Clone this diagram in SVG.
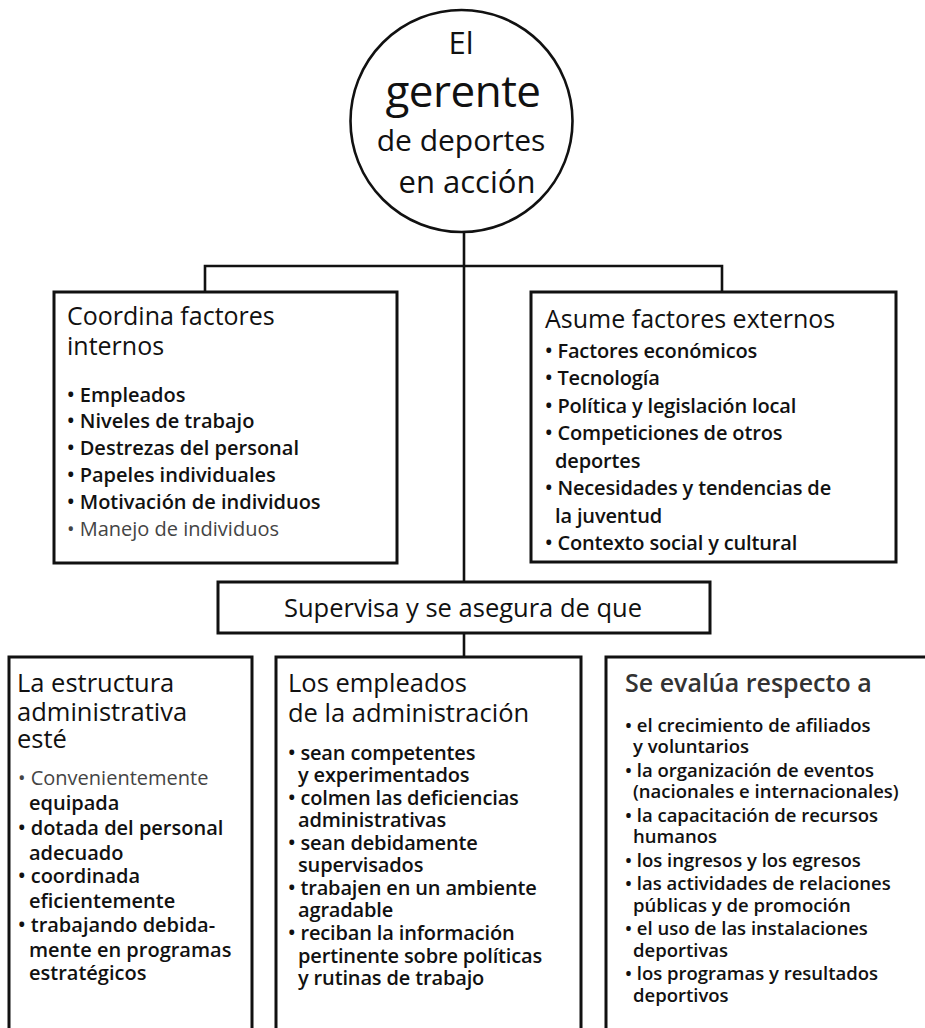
<svg xmlns="http://www.w3.org/2000/svg" width="925" height="1028" viewBox="0 0 925 1028">
<style>
text{font-family:"Open Sans","Noto Sans","Liberation Sans",sans-serif;fill:#111}
.box{fill:#fff;stroke:#111;stroke-width:3}
.open{fill:none;stroke:#111;stroke-width:3}
.conn{fill:none;stroke:#111;stroke-width:2.6}
.hd{font-size:25px;font-weight:500}
.hd2{font-size:25.5px;font-weight:500}
.it{font-size:20px;font-weight:600}
.it2{font-size:18.5px;font-weight:600}
.gray{fill:#444;font-weight:500}
.c{text-anchor:middle;font-weight:500}
</style>
<rect width="925" height="1028" fill="#fff"/>
<g id="connectors">
<line class="conn" x1="464" y1="232" x2="464" y2="582"/>
<polyline class="conn" points="205,292 205,266 722,266 722,292"/>
<line class="conn" x1="464" y1="633" x2="464" y2="657"/>
</g>
<g id="gerente">
<circle cx="461.5" cy="121" r="111" fill="#fff" stroke="#111" stroke-width="2.6"/>
<text class="c"><tspan x="461" y="54" font-size="31">El</tspan><tspan x="463" y="107" font-size="44" letter-spacing="-0.5">gerente</tspan><tspan x="461" y="151" font-size="30">de deportes</tspan><tspan x="467" y="193" font-size="31">en acción</tspan></text>
</g>
<g id="internos">
<rect class="box" x="54" y="292" width="343" height="271"/>
<text class="hd"><tspan x="67" y="325">Coordina factores</tspan><tspan x="67" y="355">internos</tspan></text>
<text class="it"><tspan x="67" y="402">• Empleados</tspan><tspan x="67" y="428">• Niveles de trabajo</tspan><tspan x="67" y="455">• Destrezas del personal</tspan><tspan x="67" y="482">• Papeles individuales</tspan><tspan x="67" y="509">• Motivación de individuos</tspan><tspan class="gray" x="67" y="536">• Manejo de individuos</tspan></text>
</g>
<g id="externos">
<rect class="box" x="531" y="292" width="365" height="270"/>
<text class="hd" x="545" y="328">Asume factores externos</text>
<text class="it" letter-spacing="-0.15"><tspan x="545" y="358">• Factores económicos</tspan><tspan x="545" y="385">• Tecnología</tspan><tspan x="545" y="413">• Política y legislación local</tspan><tspan x="545" y="440">• Competiciones de otros</tspan><tspan x="555" y="468">deportes</tspan><tspan x="545" y="495">• Necesidades y tendencias de</tspan><tspan x="555" y="523">la juventud</tspan><tspan x="545" y="550">• Contexto social y cultural</tspan></text>
</g>
<g id="supervisa">
<rect class="box" x="218" y="582" width="492" height="51"/>
<text class="c" x="463" y="617" font-size="25.5">Supervisa y se asegura de que</text>
</g>
<g id="estructura">
<path class="open" d="M9,1028 V657 H252 V1028"/>
<text class="hd2"><tspan x="17" y="692">La estructura</tspan><tspan x="17" y="721">administrativa</tspan><tspan x="17" y="748">esté</tspan></text>
<text class="it"><tspan class="gray" x="18" y="785">• Convenientemente</tspan><tspan x="29" y="810">equipada</tspan><tspan x="18" y="835">• dotada del personal</tspan><tspan x="29" y="860">adecuado</tspan><tspan x="18" y="883">• coordinada</tspan><tspan x="29" y="908">eficientemente</tspan><tspan x="18" y="932">• trabajando debida-</tspan><tspan x="29" y="957">mente en programas</tspan><tspan x="29" y="980">estratégicos</tspan></text>
</g>
<g id="empleados">
<path class="open" d="M276,1028 V657 H581 V1028"/>
<text class="hd2"><tspan x="288" y="692">Los empleados</tspan><tspan x="288" y="722">de la administración</tspan></text>
<text class="it" letter-spacing="-0.15"><tspan x="288" y="760">• sean competentes</tspan><tspan x="298" y="782">y experimentados</tspan><tspan x="288" y="805">• colmen las deficiencias</tspan><tspan x="298" y="827">administrativas</tspan><tspan x="288" y="850">• sean debidamente</tspan><tspan x="298" y="872">supervisados</tspan><tspan x="288" y="895">• trabajen en un ambiente</tspan><tspan x="298" y="917">agradable</tspan><tspan x="288" y="940">• reciban la información</tspan><tspan x="298" y="963">pertinente sobre políticas</tspan><tspan x="298" y="985">y rutinas de trabajo</tspan></text>
</g>
<g id="evalua">
<path class="open" d="M606,1028 V657 H925"/>
<text x="625" y="692" font-size="25" font-weight="600" style="fill:#333">Se evalúa respecto a</text>
<text class="it2"><tspan x="625" y="732">• el crecimiento de afiliados</tspan><tspan x="633" y="753">y voluntarios</tspan><tspan x="625" y="777">• la organización de eventos</tspan><tspan x="633" y="798">(nacionales e internacionales)</tspan><tspan x="625" y="822">• la capacitación de recursos</tspan><tspan x="633" y="843">humanos</tspan><tspan x="625" y="867">• los ingresos y los egresos</tspan><tspan x="625" y="890">• las actividades de relaciones</tspan><tspan x="633" y="912">públicas y de promoción</tspan><tspan x="625" y="935">• el uso de las instalaciones</tspan><tspan x="633" y="957">deportivas</tspan><tspan x="625" y="980">• los programas y resultados</tspan><tspan x="633" y="1002">deportivos</tspan></text>
</g>
</svg>
